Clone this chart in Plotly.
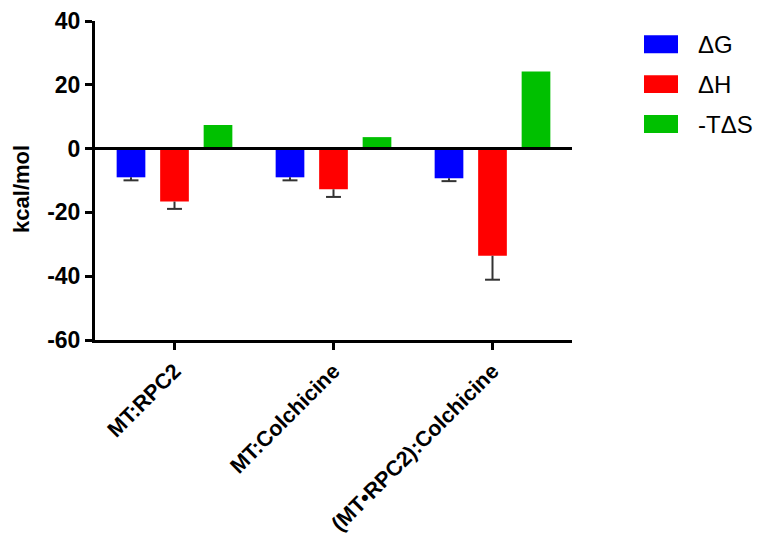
import plotly.graph_objects as go

# Binding thermodynamics (kcal/mol)
categories = ["MT:RPC2", "MT:Colchicine", "(MT•RPC2):Colchicine"]
series_names = ["ΔG", "ΔH", "-TΔS"]
dG = [-9.0, -9.0, -9.3]
dG_err = [0.95, 0.95, 0.9]
dH = [-16.6, -12.75, -33.6]
dH_err = [2.3, 2.4, 7.5]
mTdS = [7.4, 3.6, 24.2]
mTdS_err = [0.0, 0.0, 0.0]
y_ticks = [-60, -40, -20, 0, 20, 40]
y_ticktext = ["-60", "-40", "-20", "0", "20", "40"]

values = [dG, dH, mTdS]
errors = [dG_err, dH_err, mTdS_err]
colors = ["#0000FF", "#FF0000", "#00C000"]

# plot-area geometry in pixels (used to place layout decorations)
W, H = 758, 550
L, R, T, B = 95, 572, 20.7, 340.5


def px(x):
    return (x - L) / (R - L)


def py(y):
    return (B - y) / (B - T)


offsets = [-0.2736, 0.0, 0.2736]
bar_w = 0.1805
cap = 0.047

fig = go.Figure()
for name, vals, errs, col, off in zip(series_names, values, errors, colors, offsets):
    xs = [i + off for i in range(len(categories))]
    fig.add_trace(go.Bar(
        x=xs, y=vals, width=bar_w, name=name,
        marker=dict(color=col, line=dict(width=0)),
        showlegend=False,
    ))
    # one-sided error whiskers pointing away from zero
    ex, ey = [], []
    for x, v, e in zip(xs, vals, errs):
        if e <= 0:
            continue
        end = v - e if v < 0 else v + e
        ex += [x, x, None, x - cap, x + cap, None]
        ey += [v, end, None, end, end, None]
    if ex:
        fig.add_trace(go.Scatter(
            x=ex, y=ey, mode="lines",
            line=dict(color="#333333", width=2),
            hoverinfo="skip", showlegend=False,
        ))

# zero reference line drawn over the bars
fig.add_shape(type="line", xref="paper", yref="y", x0=0, x1=1, y0=0, y1=0,
              line=dict(color="black", width=3), layer="above")

# legend: coloured swatches with labels
row_y = [44, 84, 124]
for name, col, yc in zip(series_names, colors, row_y):
    fig.add_shape(type="rect", xref="paper", yref="paper",
                  x0=px(644), x1=px(678), y0=py(yc + 9), y1=py(yc - 9),
                  fillcolor=col, line=dict(width=0))
    fig.add_annotation(xref="paper", yref="paper", x=px(696), y=py(yc),
                       text=name, showarrow=False, xanchor="left", yanchor="middle",
                       font=dict(family="Liberation Sans, Arial", size=24, color="black"))

# y-axis title
fig.add_annotation(xref="paper", yref="paper", x=px(22), y=py(189),
                   text="<b>kcal/mol</b>", textangle=-90, showarrow=False,
                   xanchor="center", yanchor="middle",
                   font=dict(family="Liberation Sans, Arial", size=22, color="black"))

fig.update_layout(
    width=W, height=H,
    margin=dict(l=L, r=W - R, t=T, b=H - B, pad=0, autoexpand=False),
    paper_bgcolor="white", plot_bgcolor="white",
    showlegend=False,
    xaxis=dict(
        range=[-0.5, 2.5], tickmode="array", automargin=False,
        tickvals=list(range(len(categories))), ticktext=categories,
        tickangle=-45, showgrid=False, zeroline=False,
        showline=True, linecolor="black", linewidth=3,
        ticks="outside", ticklen=7, tickwidth=3, tickcolor="black",
        tickfont=dict(family="Liberation Sans, Arial", size=21.5, color="black", weight="bold"),
    ),
    yaxis=dict(
        range=[-60, 40], tickmode="array", tickvals=y_ticks, ticktext=y_ticktext,
        automargin=False,
        showgrid=False, zeroline=False,
        showline=True, linecolor="black", linewidth=3,
        ticks="outside", ticklen=7, tickwidth=3, tickcolor="black",
        tickfont=dict(family="Liberation Sans, Arial", size=23, color="black", weight="bold"),
    ),
)

fig.write_html("out.html")
